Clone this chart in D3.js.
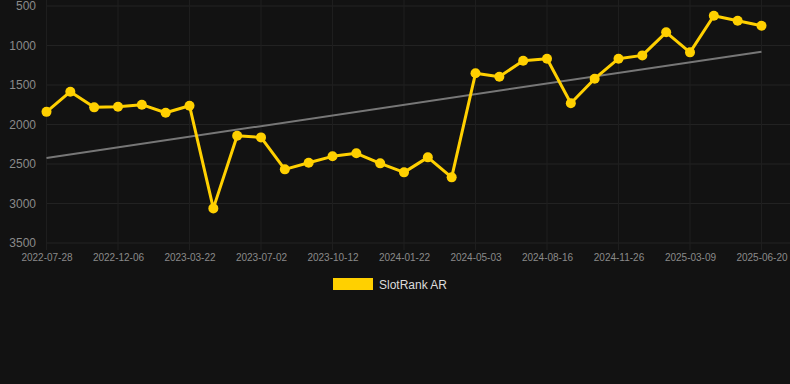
<!DOCTYPE html>
<html>
<head>
<meta charset="utf-8">
<script src="https://cdn.jsdelivr.net/npm/d3@7"></script>
<style>
  html, body { margin: 0; padding: 0; background: #121212; }
  #chart { width: 790px; height: 384px; }
  text { font-family: "Liberation Sans", Arial, sans-serif; }
</style>
</head>
<body>
<div id="chart"></div>
<script>
// Dates (one per point); only every third one is printed on the axis
const dates = [
  "2022-07-28", "2022-09-10", "2022-10-23", "2022-12-06", "2023-01-09", "2023-02-15",
  "2023-03-22", "2023-04-25", "2023-05-29", "2023-07-02", "2023-08-05", "2023-09-08",
  "2023-10-12", "2023-11-15", "2023-12-19", "2024-01-22", "2024-02-25", "2024-03-30",
  "2024-05-03", "2024-06-06", "2024-07-10", "2024-08-16", "2024-09-19", "2024-10-23",
  "2024-11-26", "2024-12-30", "2025-02-02", "2025-03-09", "2025-04-12", "2025-05-16",
  "2025-06-20"
];
const ranks = [
  1840, 1585, 1783, 1775, 1749, 1851, 1762, 3062, 2142, 2163, 2568, 2484,
  2403, 2365, 2492, 2606, 2416, 2669, 1352, 1395, 1192, 1167, 1732, 1420,
  1167, 1125, 833, 1087, 623, 686, 749
];
const trend = [2424, 1078];
const yTicks = [500, 1000, 1500, 2000, 2500, 3000, 3500];
const seriesName = "SlotRank AR";

const width = 790;
const height = 384;
const svg = d3.select("#chart")
  .append("svg")
  .attr("width", width)
  .attr("height", height);

svg.append("rect")
  .attr("width", width)
  .attr("height", height)
  .attr("fill", "#121212");

// Scales
const x = d3.scalePoint()
  .domain(dates)
  .range([46.5, 761.5]);
const y = d3.scaleLinear()
  .domain([500, 3500])
  .range([6, 243]);

const labelDates = dates.filter((d, i) => i % 3 === 0);

// Grid
svg.append("g")
  .selectAll("line")
  .data(yTicks)
  .join("line")
  .attr("x1", 46)
  .attr("x2", width)
  .attr("y1", d => y(d))
  .attr("y2", d => y(d))
  .attr("stroke", "#222")
  .attr("stroke-width", 1);
svg.append("g")
  .selectAll("line")
  .data(labelDates)
  .join("line")
  .attr("x1", d => x(d))
  .attr("x2", d => x(d))
  .attr("y1", 0)
  .attr("y2", 250)
  .attr("stroke", "#1e1e1e")
  .attr("stroke-width", 1);

// Axes
const yAxis = svg.append("g")
  .attr("transform", "translate(36, 0)")
  .call(d3.axisLeft(y).tickValues(yTicks).tickFormat(d3.format("d")).tickSize(0).tickPadding(0));
yAxis.select(".domain").remove();
yAxis.selectAll("text")
  .attr("fill", "#8a8a8a")
  .style("font-size", "12px");

const xAxis = svg.append("g")
  .attr("transform", "translate(0, 254)")
  .call(d3.axisBottom(x).tickValues(labelDates).tickSize(0).tickPadding(0));
xAxis.select(".domain").remove();
xAxis.selectAll("text")
  .attr("fill", "#8a8a8a")
  .style("font-size", "10px");

// Trend line
svg.append("line")
  .attr("x1", x(dates[0]))
  .attr("x2", x(dates[dates.length - 1]))
  .attr("y1", y(trend[0]))
  .attr("y2", y(trend[1]))
  .attr("stroke", "#777")
  .attr("stroke-width", 2);

// Series
const points = dates.map((d, i) => ({ date: d, rank: ranks[i] }));
const line = d3.line()
  .x(d => x(d.date))
  .y(d => y(d.rank));

svg.append("path")
  .datum(points)
  .attr("d", line)
  .attr("fill", "none")
  .attr("stroke", "#ffd000")
  .attr("stroke-width", 3)
  .attr("stroke-linejoin", "round");

svg.append("g")
  .selectAll("circle")
  .data(points)
  .join("circle")
  .attr("cx", d => x(d.date))
  .attr("cy", d => y(d.rank))
  .attr("r", 5)
  .attr("fill", "#ffd000");

// Legend
const legend = svg.append("g")
  .attr("transform", "translate(333, 278)");
legend.append("rect")
  .attr("width", 40)
  .attr("height", 12)
  .attr("fill", "#ffd000");
legend.append("text")
  .attr("x", 46)
  .attr("y", 10.5)
  .attr("fill", "#dcdcdc")
  .style("font-size", "12px")
  .text(seriesName);
</script>
</body>
</html>
